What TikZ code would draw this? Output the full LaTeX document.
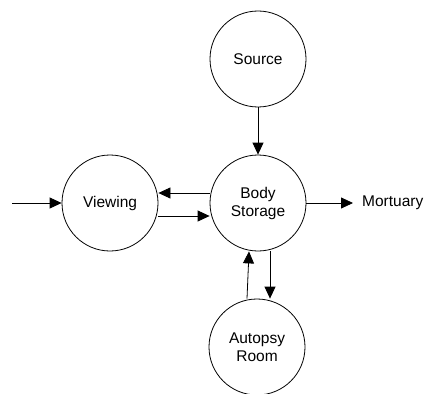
\documentclass[tikz,border=0pt]{standalone}
\usepackage{fontspec}
\setmainfont{Liberation Sans}
\usetikzlibrary{arrows.meta}
\begin{document}
\begin{tikzpicture}[x=1pt,y=-1pt,
  state/.style={draw,circle,line width=0.8pt,minimum size=96pt,inner sep=0pt,align=center,font=\fontsize{15.5}{18}\selectfont},
  lbl/.style={inner sep=0pt,font=\fontsize{15.5}{18}\selectfont},
  flow/.style={line width=0.8pt,-{Triangle[length=12pt,width=11pt]}}]
\useasboundingbox (0,0) rectangle (427,393);
\node[state] (src) at (258,59) {Source};
\node[state] (body) at (258,203) {Body\\Storage};
\node[state] (view) at (110,203) {Viewing};
\node[state] (aut) at (257,347) {Autopsy\\Room};
\node[lbl,anchor=west] (mort) at (362,203) {Mortuary};
\coordinate (in) at (12,203);
\draw[flow] (in) -- (view.west);
\draw[flow] (src) -- (body);
\draw[flow] ([yshift=10pt]body.west) -- ([yshift=10pt]view.east);
\draw[flow] ([yshift=-13pt]view.east) -- ([yshift=-13pt]body.west);
\draw[flow] (body.east) -- ([xshift=-9pt]mort.west);
\draw[flow] ([xshift=-10pt]aut.north) -- ([xshift=-9pt]body.south);
\draw[flow] ([xshift=12pt]body.south) -- ([xshift=13pt]aut.north);
\end{tikzpicture}
\end{document}
